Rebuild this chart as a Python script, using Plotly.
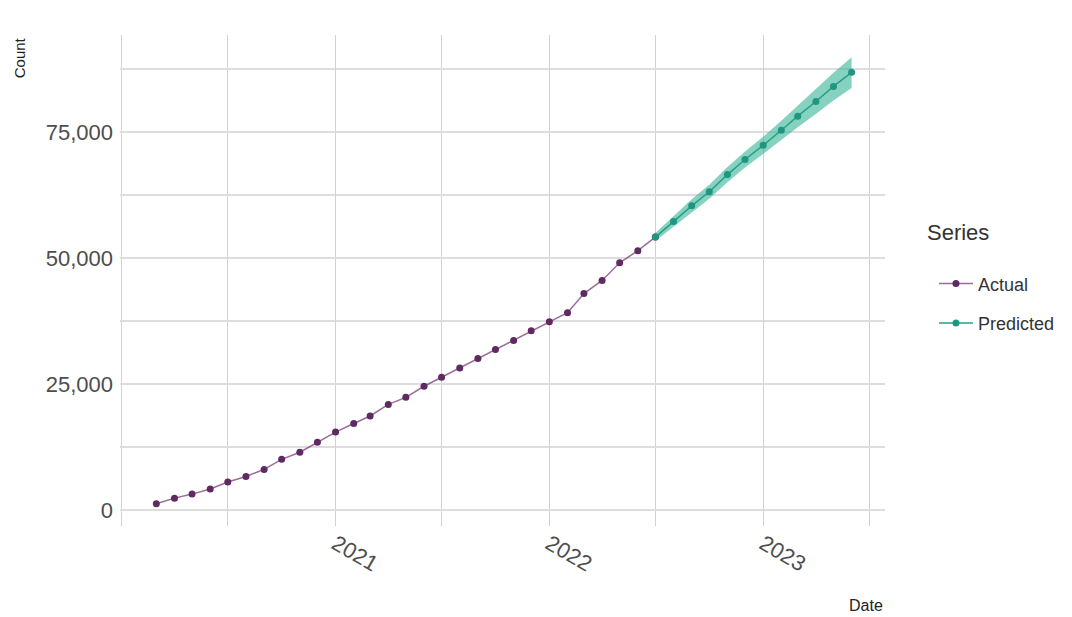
import plotly.graph_objects as go

actual_dates = [
    "2020-03-01", "2020-04-01", "2020-05-01", "2020-06-01", "2020-07-01", "2020-08-01",
    "2020-09-01", "2020-10-01", "2020-11-01", "2020-12-01", "2021-01-01", "2021-02-01",
    "2021-03-01", "2021-04-01", "2021-05-01", "2021-06-01", "2021-07-01", "2021-08-01",
    "2021-09-01", "2021-10-01", "2021-11-01", "2021-12-01", "2022-01-01", "2022-02-01",
    "2022-03-01", "2022-04-01", "2022-05-01", "2022-06-01", "2022-07-01",
]
actual_values = [
    1300, 2400, 3200, 4200, 5600, 6700, 8100, 10100, 11500, 13500, 15500, 17200,
    18700, 21000, 22400, 24600, 26400, 28200, 30100, 31900, 33700, 35600, 37400, 39200,
    43000, 45600, 49100, 51500, 54200,
]

pred_dates = [
    "2022-07-01", "2022-08-01", "2022-09-01", "2022-10-01", "2022-11-01", "2022-12-01",
    "2023-01-01", "2023-02-01", "2023-03-01", "2023-04-01", "2023-05-01", "2023-06-01",
]
pred_values = [54200, 57300, 60400, 63200, 66600, 69600, 72400, 75400, 78200, 81100, 84100, 86900]
pred_upper = [55000, 58400, 61700, 64600, 68100, 71200, 74100, 77300, 80300, 83500, 86800, 89900]
pred_lower = [53400, 56200, 59100, 61800, 65100, 68000, 70700, 73500, 76000, 78600, 81300, 83800]

x_tick_vals = ["2021-01-01", "2022-01-01", "2023-01-01"]
x_tick_text = ["2021", "2022", "2023"]
x_minor_vals = ["2020-01-01", "2020-07-01", "2021-07-01", "2022-07-01", "2023-07-01"]
y_tick_vals = [0, 25000, 50000, 75000]
y_tick_text = ["0", "25,000", "50,000", "75,000"]
y_minor_vals = [12500, 37500, 62500, 87500]

PURPLE_LINE = "rgba(120,60,120,0.75)"
PURPLE_PT = "#5e2a61"
TEAL_LINE = "#2a9d86"
TEAL_PT = "#1f9680"
TEAL_FILL = "rgba(60,182,155,0.62)"

fig = go.Figure()

fig.add_trace(go.Scatter(
    x=pred_dates, y=pred_lower, mode="lines", line=dict(width=0, color=TEAL_FILL),
    showlegend=False, hoverinfo="skip",
))
fig.add_trace(go.Scatter(
    x=pred_dates, y=pred_upper, mode="lines", line=dict(width=0, color=TEAL_FILL),
    fill="tonexty", fillcolor=TEAL_FILL, showlegend=False, hoverinfo="skip",
))
fig.add_trace(go.Scatter(
    x=actual_dates, y=actual_values, mode="lines+markers", name="Actual",
    line=dict(color=PURPLE_LINE, width=1.5),
    marker=dict(color=PURPLE_PT, size=7, symbol="circle"),
    legendgroup="a",
))
fig.add_trace(go.Scatter(
    x=pred_dates, y=pred_values, mode="lines+markers", name="Predicted",
    line=dict(color=TEAL_LINE, width=1.5),
    marker=dict(color=TEAL_PT, size=7, symbol="circle"),
    legendgroup="p",
))

fig.update_layout(
    width=1064, height=609,
    margin=dict(l=112, r=187, t=27, b=91, pad=0, autoexpand=False),
    paper_bgcolor="white", plot_bgcolor="white",
    font=dict(family="Liberation Sans, Arial, sans-serif", color="#4d4d4d"),
    showlegend=True,
    legend=dict(
        font=dict(size=18, color="#333333"),
        x=1.064, xanchor="left", y=0.531, yanchor="top",
        tracegroupgap=13, itemwidth=34,
    ),
    xaxis=dict(
        type="date", range=["2019-12-30", "2023-07-28"],
        tickmode="array", tickvals=x_tick_vals, ticktext=x_tick_text,
        tickangle=30, tickfont=dict(size=22, color="#4d4d4d"),
        showgrid=True, gridcolor="#d2d2d2", gridwidth=1,
        minor=dict(tickmode="array", tickvals=x_minor_vals, showgrid=True,
                   gridcolor="#d2d2d2", gridwidth=1),
        zeroline=False, showline=False, ticks="",
    ),
    yaxis=dict(
        range=[-3130, 94300],
        tickmode="array", tickvals=y_tick_vals, ticktext=y_tick_text,
        tickfont=dict(size=22, color="#4d4d4d"),
        showgrid=True, gridcolor="#dddddd", gridwidth=1.6,
        minor=dict(tickmode="array", tickvals=y_minor_vals, showgrid=True,
                   gridcolor="#dddddd", gridwidth=1.6),
        zeroline=False, showline=False, ticks="", ticklabelstandoff=6,
    ),
    annotations=[
        dict(text="Count", xref="paper", yref="paper", x=-0.131, y=1.0,
             xanchor="center", yanchor="top", textangle=-90, showarrow=False,
             font=dict(size=15, color="#222222")),
        dict(text="Date", xref="paper", yref="paper", x=1.0, y=-0.161,
             xanchor="right", yanchor="middle", showarrow=False,
             font=dict(size=16, color="#222222")),
        dict(text="Series", xref="paper", yref="paper", x=1.052, y=0.597,
             xanchor="left", yanchor="middle", showarrow=False,
             font=dict(size=22, color="#333333")),
    ],
)

fig.write_html("out.html")
